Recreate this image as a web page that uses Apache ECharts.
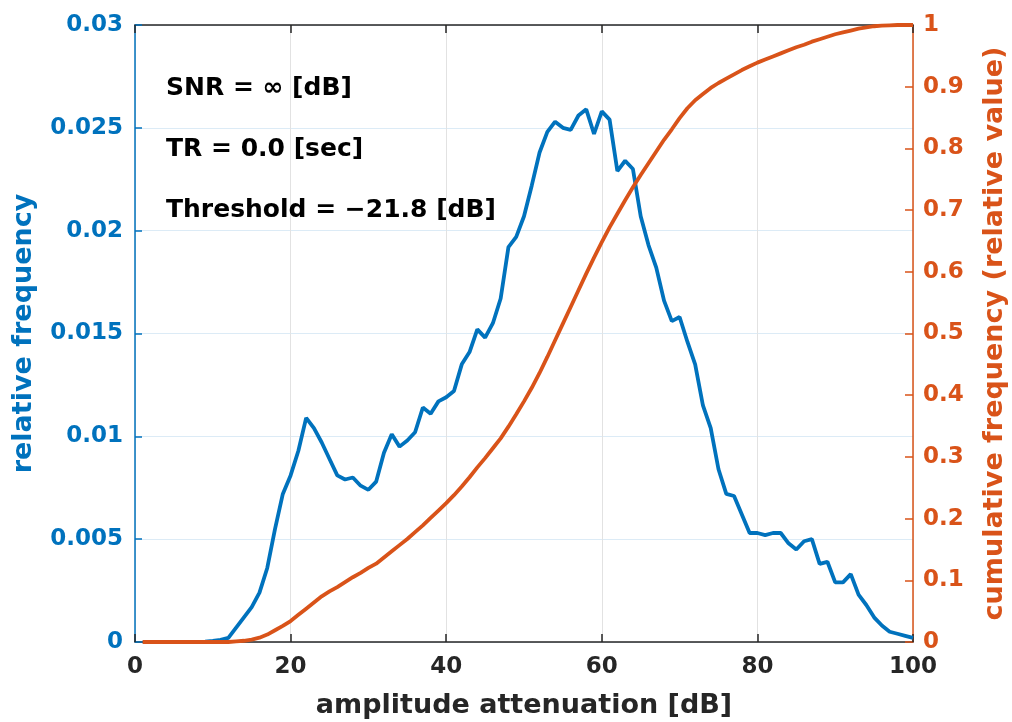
<!DOCTYPE html>
<html>
<head>
<meta charset="utf-8">
<script src="https://cdn.jsdelivr.net/npm/echarts@6/dist/echarts.min.js"></script>
<style>
html,body{margin:0;padding:0;background:#fff;}
#chart{width:1012px;height:722px;}
</style>
</head>
<body>
<div id="chart"></div>
<script>
// amplitude attenuation [dB]
const attenuation = [1,2,3,4,5,6,7,8,9,10,11,12,13,14,15,16,17,18,19,20,
  21,22,23,24,25,26,27,28,29,30,31,32,33,34,35,36,37,38,39,40,
  41,42,43,44,45,46,47,48,49,50,51,52,53,54,55,56,57,58,59,60,
  61,62,63,64,65,66,67,68,69,70,71,72,73,74,75,76,77,78,79,80,
  81,82,83,84,85,86,87,88,89,90,91,92,93,94,95,96,97,98,99,100];

// relative frequency (left axis)
const relativeFrequency = [0,0,0,0,0,0,0,0,0.00002,0.00005,
  0.0001,0.0002,0.0007,0.0012,0.0017,0.0024,0.0036,0.0055,0.0072,0.0081,
  0.0093,0.0109,0.0104,0.0097,0.0089,0.0081,0.0079,0.0080,0.0076,0.0074,
  0.0078,0.0092,0.0101,0.0095,0.0098,0.0102,0.0114,0.0111,0.0117,0.0119,
  0.0122,0.0135,0.0141,0.0152,0.0148,0.0155,0.0167,0.0192,0.0197,0.0207,
  0.0222,0.0238,0.0248,0.0253,0.0250,0.0249,0.0256,0.0259,0.0247,0.0258,
  0.0254,0.0229,0.0234,0.0230,0.0207,0.0193,0.0182,0.0166,0.0156,0.0158,
  0.0146,0.0135,0.0115,0.0104,0.0084,0.0072,0.0071,0.0062,0.0053,0.0053,
  0.0052,0.0053,0.0053,0.0048,0.0045,0.0049,0.0050,0.0038,0.0039,0.0029,
  0.0029,0.0033,0.0023,0.0018,0.0012,0.0008,0.0005,0.0004,0.0003,0.0002];

// cumulative frequency (right axis)
const cumulativeFrequency = [0,0,0,0,0,0,0,0,0,0,
  0,0,0.001,0.002,0.004,0.007,0.012,0.019,0.026,0.034,
  0.044,0.054,0.064,0.074,0.082,0.089,0.097,0.105,0.112,0.120,
  0.127,0.137,0.147,0.157,0.167,0.178,0.189,0.201,0.213,0.225,
  0.238,0.252,0.267,0.283,0.298,0.314,0.330,0.349,0.369,0.390,
  0.412,0.436,0.462,0.489,0.516,0.543,0.570,0.597,0.623,0.648,
  0.672,0.694,0.716,0.737,0.757,0.776,0.795,0.814,0.831,0.849,
  0.865,0.878,0.888,0.898,0.906,0.913,0.920,0.927,0.933,0.939,
  0.944,0.949,0.954,0.959,0.964,0.968,0.973,0.977,0.981,0.985,
  0.988,0.991,0.994,0.996,0.998,0.999,0.9995,1.0,1.0,1.0];

const annotations = ['SNR = \u221E [dB]', 'TR = 0.0 [sec]', 'Threshold = \u221221.8 [dB]'];
const xAxisTitle = 'amplitude attenuation [dB]';
const leftAxisTitle = 'relative frequency';
const rightAxisTitle = 'cumulative frequency (relative value)';

const BLUE = '#0072BD';
const ORANGE = '#D95319';
const DARK = '#262626';
const FONT = 'DejaVu Sans';

const chart = echarts.init(document.getElementById('chart'), null, {renderer: 'canvas'});

function fmt(v) { return String(parseFloat(v.toFixed(4))); }

const option = {
  animation: false,
  backgroundColor: '#ffffff',
  grid: {left: 135, right: 99, top: 25, bottom: 80, containLabel: false, outerBoundsMode: 'none'},
  xAxis: [{
    type: 'value', min: 0, max: 100, interval: 20, position: 'bottom',
    name: xAxisTitle, nameLocation: 'middle', nameGap: 50,
    nameTextStyle: {color: DARK, fontFamily: FONT, fontWeight: 'bold', fontSize: 27},
    axisLine: {show: true, onZero: false, lineStyle: {color: DARK, width: 1.5}},
    axisTick: {show: true, inside: true, length: 8, lineStyle: {color: DARK, width: 1.5}},
    axisLabel: {color: DARK, fontFamily: FONT, fontWeight: 'bold', fontSize: 23, margin: 14, formatter: fmt},
    splitLine: {show: true, lineStyle: {color: '#e2e2e2', width: 1}}
  }, {
    type: 'value', min: 0, max: 100, interval: 20, position: 'top',
    axisLine: {show: true, onZero: false, lineStyle: {color: DARK, width: 1.5}},
    axisTick: {show: true, inside: true, length: 8, lineStyle: {color: DARK, width: 1.5}},
    axisLabel: {show: false},
    splitLine: {show: false}
  }],
  yAxis: [{
    type: 'value', min: 0, max: 0.03, interval: 0.005, position: 'left',
    name: leftAxisTitle, nameLocation: 'middle', nameGap: 98, nameRotate: 90,
    nameTextStyle: {color: BLUE, fontFamily: FONT, fontWeight: 'bold', fontSize: 27},
    axisLine: {show: true, onZero: false, lineStyle: {color: BLUE, width: 1.5}},
    axisTick: {show: true, inside: true, length: 7, lineStyle: {color: BLUE, width: 1.5}},
    axisLabel: {color: BLUE, fontFamily: FONT, fontWeight: 'bold', fontSize: 23, margin: 12, formatter: fmt},
    splitLine: {show: true, lineStyle: {color: '#dcebf6', width: 1}}
  }, {
    type: 'value', min: 0, max: 1, interval: 0.1, position: 'right',
    name: rightAxisTitle, nameLocation: 'middle', nameGap: 68, nameRotate: 90,
    nameTextStyle: {color: ORANGE, fontFamily: FONT, fontWeight: 'bold', fontSize: 27},
    axisLine: {show: true, onZero: false, lineStyle: {color: ORANGE, width: 1.5}},
    axisTick: {show: true, inside: true, length: 8, lineStyle: {color: ORANGE, width: 1.5}},
    axisLabel: {color: ORANGE, fontFamily: FONT, fontWeight: 'bold', fontSize: 23, margin: 10, formatter: fmt},
    splitLine: {show: false}
  }],
  series: [{
    type: 'line', name: leftAxisTitle, xAxisIndex: 0, yAxisIndex: 0,
    data: attenuation.map((x, i) => [x, relativeFrequency[i]]),
    showSymbol: false, smooth: false, z: 3,
    lineStyle: {color: BLUE, width: 3.8}
  }, {
    type: 'line', name: rightAxisTitle, xAxisIndex: 0, yAxisIndex: 1,
    data: attenuation.map((x, i) => [x, cumulativeFrequency[i]]),
    showSymbol: false, smooth: false, z: 4,
    lineStyle: {color: ORANGE, width: 3.8}
  }],
  graphic: annotations.map((t, i) => ({
    type: 'text', left: 166, top: 76 + i * 61, z: 10,
    style: {text: t, fill: '#000', font: 'bold 25px "' + FONT + '"'}
  }))
};
chart.setOption(option);
</script>
</body>
</html>
